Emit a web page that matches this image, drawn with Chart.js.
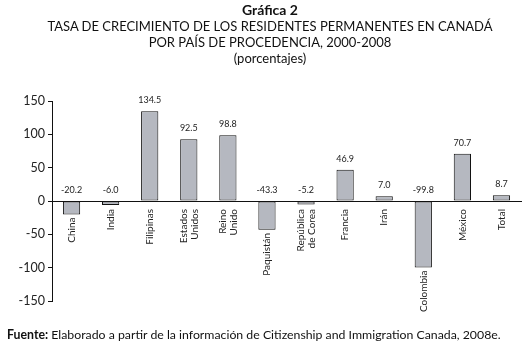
<!DOCTYPE html>
<html>
<head>
<meta charset="utf-8">
<script src="https://cdn.jsdelivr.net/npm/chart.js@4/dist/chart.umd.min.js"></script>
<style>
  html, body { margin: 0; padding: 0; background: #fff; }
  #wrap { position: relative; width: 527px; height: 347px; overflow: hidden; font-family: Lato, "Open Sans", sans-serif; color: #111; }
  #c { position: absolute; left: 0; top: 0; }
  .t { position: absolute; left: 0; width: 540px; text-align: center; white-space: nowrap; font-size: 13px; line-height: 16px; }
  #foot { position: absolute; left: 7px; top: 327px; font-size: 12.3px; white-space: nowrap; }
</style>
</head>
<body>
<div id="wrap">
  <canvas id="c" width="527" height="347"></canvas>
  <div class="t" style="top:2px;font-weight:bold;font-size:14px;">Gráfica 2</div>
  <div class="t" style="top:18px;">TASA DE CRECIMIENTO DE LOS RESIDENTES PERMANENTES EN CANADÁ</div>
  <div class="t" style="top:34px;">POR PAÍS DE PROCEDENCIA, 2000-2008</div>
  <div class="t" style="top:50px;">(porcentajes)</div>
  <div id="foot"><b>Fuente:</b> Elaborado a partir de la información de Citizenship and Immigration Canada, 2008e.</div>
</div>
<script>
const categories = [
  'China', 'India', 'Filipinas', ['Estados', 'Unidos'], ['Reino', 'Unido'], 'Paquistán',
  ['República', 'de Corea'], 'Francia', 'Irán', 'Colombia', 'México', 'Total'
];
const growthRates = [-20.2, -6.0, 134.5, 92.5, 98.8, -43.3, -5.2, 46.9, 7.0, -99.8, 70.7, 8.7];
const valueLabels = ['-20.2', '-6.0', '134.5', '92.5', '98.8', '-43.3', '-5.2', '46.9', '7.0', '-99.8', '70.7', '8.7'];
const yTicks = [-150, -100, -50, 0, 50, 100, 150];

const labelPlugin = {
  id: 'barLabels',
  afterDatasetsDraw(chart) {
    const ctx = chart.ctx;
    const meta = chart.getDatasetMeta(0);
    const xs = chart.scales.x;
    const zeroY = chart.scales.y.getPixelForValue(0);
    ctx.save();
    // value labels
    ctx.font = '9px Lato, sans-serif';
    ctx.fillStyle = '#222';
    ctx.textAlign = 'center';
    ctx.textBaseline = 'middle';
    meta.data.forEach((bar, i) => {
      const v = growthRates[i];
      const top = v >= 0 ? bar.y : zeroY;
      ctx.fillText(valueLabels[i], bar.x, top - 11);
    });
    // category labels, rotated, below zero line or below the bar
    ctx.font = '10px Lato, sans-serif';
    ctx.textAlign = 'right';
    ctx.textBaseline = 'middle';
    categories.forEach((cat, i) => {
      const x = xs.getPixelForValue(i);
      const v = growthRates[i];
      const bottom = v < 0 ? meta.data[i].y : zeroY;
      const startY = Math.max(zeroY + 8, bottom + 3);
      const lines = Array.isArray(cat) ? cat : [cat];
      const lh = 11;
      lines.forEach((ln, j) => {
        const dx = (j - (lines.length - 1) / 2) * lh;
        ctx.save();
        ctx.translate(x + dx, startY);
        ctx.rotate(-Math.PI / 2);
        ctx.fillText(ln, 0, 0);
        ctx.restore();
      });
    });
    ctx.restore();
  }
};

new Chart(document.getElementById('c'), {
  type: 'bar',
  data: {
    labels: categories,
    datasets: [{
      data: growthRates,
      backgroundColor: '#b5b8c0',
      borderColor: '#111',
      borderWidth: 1,
      borderSkipped: false,
      barPercentage: 0.9,
      categoryPercentage: 0.49
    }]
  },
  options: {
    responsive: false,
    animation: false,
    devicePixelRatio: 1,
    layout: { padding: { left: 0, right: 6, top: 101, bottom: 46 } },
    plugins: { legend: { display: false }, tooltip: { enabled: false } },
    scales: {
      x: {
        position: { y: 0 },
        grid: { display: false, drawTicks: false },
        border: { display: true, color: '#111', width: 1 },
        ticks: { display: false }
      },
      y: {
        min: -150, max: 150,
        afterFit(scale) { scale.width = 52; },
        afterBuildTicks(scale) { scale.ticks = yTicks.map(v => ({ value: v })); },
        grid: { drawOnChartArea: false, drawTicks: true, tickLength: 4, color: '#111' },
        border: { display: true, color: '#111', width: 1 },
        ticks: {
          padding: 3, color: '#222',
          font: { family: 'Lato, sans-serif', size: 12.5 }
        }
      }
    }
  },
  plugins: [labelPlugin]
});
</script>
</body>
</html>
